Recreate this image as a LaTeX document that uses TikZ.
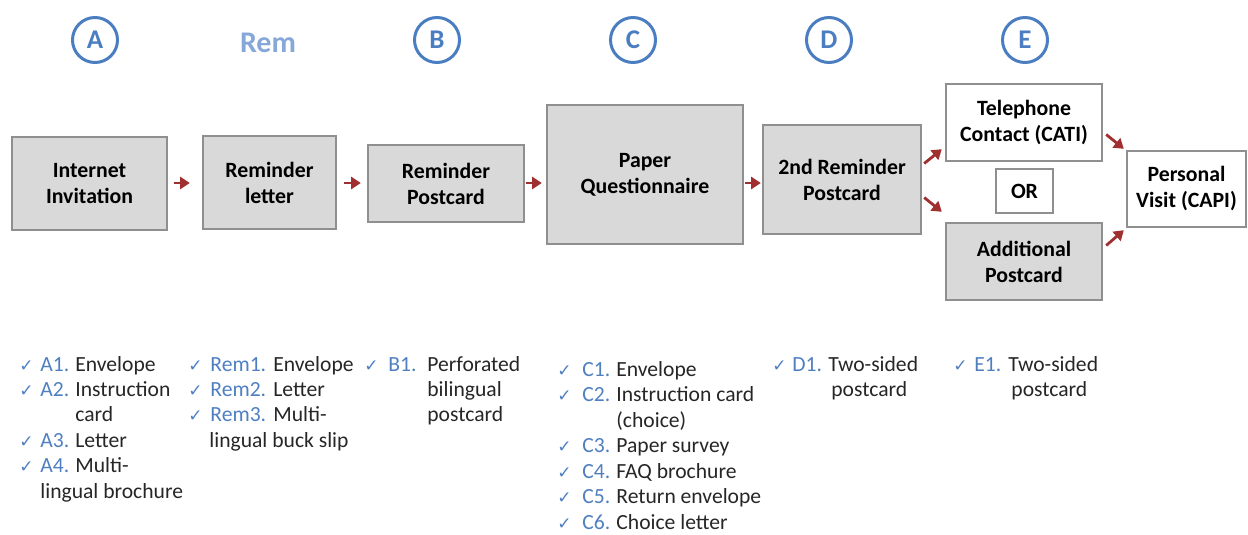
\documentclass[tikz,border=0pt]{standalone}
\usepackage{fontspec}
\setmainfont{Carlito}
\newfontfamily\symfont{DejaVu Sans}
\usetikzlibrary{arrows.meta}
\definecolor{boxfill}{HTML}{D9D9D9}
\definecolor{boxline}{HTML}{8F8F8F}
\definecolor{arrowred}{HTML}{A0302F}
\definecolor{hdblue}{HTML}{4A7EC1}
\definecolor{remblue}{HTML}{86A8D8}
\definecolor{labblue}{HTML}{4F7FC0}
\definecolor{txtgray}{HTML}{262626}
\tikzset{
    stage/.style={draw=boxline, line width=1.2pt, fill=boxfill, align=center, inner sep=0pt,
        text=black, font=\bfseries\fontsize{10.9}{13}\selectfont},
    openstage/.style={stage, fill=white},
    flow/.style={draw=arrowred, line width=1.4pt, -{Triangle[length=4.8pt,width=6pt]}},
    phase/.style={circle, draw=hdblue, line width=1.5pt, minimum size=22.5pt, inner sep=0pt,
        text=hdblue, font=\bfseries\fontsize{13.5}{13.5}\selectfont},
    tick/.style={anchor=base west, inner sep=0pt, text=labblue, font=\symfont\fontsize{8.5}{10}\selectfont},
    itemlab/.style={anchor=base west, inner sep=0pt, text=labblue, font=\fontsize{10.8}{13}\selectfont},
    itemtxt/.style={anchor=base west, inner sep=0pt, text=txtgray, font=\fontsize{10.8}{13}\selectfont}
}
\begin{document}
\begin{tikzpicture}[x=0.5pt, y=-0.5pt]
    \useasboundingbox (0,0) rectangle (1248,535);

    \node[phase] (hA) at (95,40) {A};
    \node[text=remblue, font=\bfseries\fontsize{15}{15}\selectfont] (hRem) at (268,43) {Rem};
    \node[phase] (hB) at (437,40) {B};
    \node[phase] (hC) at (633,40) {C};
    \node[phase] (hD) at (829,40) {D};
    \node[phase] (hE) at (1025,40) {E};

    \node[stage, minimum width=77.5pt, minimum height=46.5pt] (inv) at (89.5,183.5) {Internet\\Invitation};
    \node[stage, minimum width=66.5pt, minimum height=46.5pt] (remlet) at (269.5,182.5) {Reminder\\letter};
    \node[stage, minimum width=78pt, minimum height=38.5pt] (remcard) at (446,183.5) {Reminder\\Postcard};
    \node[stage, minimum width=98pt, minimum height=69.5pt] (paper) at (645,174.5) {Paper\\Questionnaire};
    \node[stage, minimum width=79pt, minimum height=54.5pt] (rem2) at (842,179.5) {2nd Reminder\\Postcard};
    \node[openstage, minimum width=78pt, minimum height=38.5pt] (tel) at (1024,122.5) {Telephone\\Contact (CATI)};
    \node[openstage, minimum width=28.5pt, minimum height=22pt] (or) at (1024.5,191) {OR};
    \node[stage, minimum width=78pt, minimum height=38.5pt] (add) at (1024,261.5) {Additional\\Postcard};
    \node[openstage, minimum width=59.5pt, minimum height=38pt] (visit) at (1186.5,189) {Personal\\Visit (CAPI)};

    \coordinate (flowline) at (0,183);
    \draw[flow] ([xshift=3pt]inv.east |- flowline) -- ([xshift=-6pt]remlet.west |- flowline);
    \draw[flow] ([xshift=3.5pt]remlet.east |- flowline) -- ([xshift=-3pt]remcard.west |- flowline);
    \draw[flow] ([xshift=0.5pt]remcard.east |- flowline) -- ([xshift=-2pt]paper.west |- flowline);
    \draw[flow] ([xshift=0.5pt]paper.east |- flowline) -- ([xshift=-0.5pt]rem2.west |- flowline);
    \draw[flow] ([shift={(2,-16)}]rem2.east) -- ([shift={(-3,-13)}]tel.south west);
    \draw[flow] ([shift={(2,18)}]rem2.east) -- ([shift={(-3,-10)}]add.north west);
    \draw[flow] ([shift={(3,12)}]tel.east) -- ([shift={(-2,-1)}]visit.north west);
    \draw[flow] ([shift={(3,-16)}]add.east) -- ([shift={(-2,2)}]visit.south west);

    \foreach \y/\lab/\txt in {371/A1./Envelope, 396/A2./Instruction, 447/A3./Letter, 472/A4./Multi-}
    {
        \node[tick] (tA\y) at (19,\y) {✓};
        \node[itemlab] (lA\y) at (40,\y) {\lab};
        \node[itemtxt] (iA\y) at (75,\y) {\txt};
    }
    \node[itemtxt] (iA421) at (75,421) {card};
    \node[itemtxt] (iA498) at (40,498) {lingual brochure};

    \foreach \y/\lab/\txt in {371/Rem1./Envelope, 396/Rem2./Letter, 421/Rem3./Multi-}
    {
        \node[tick] (tR\y) at (188,\y) {✓};
        \node[itemlab] (lR\y) at (210,\y) {\lab};
        \node[itemtxt] (iR\y) at (273,\y) {\txt};
    }
    \node[itemtxt] (iR447) at (209,447) {lingual buck slip};

    \node[tick] (tB371) at (364,371) {✓};
    \node[itemlab] (lB371) at (388,371) {B1.};
    \foreach \y/\txt in {371/Perforated, 396/bilingual, 421/postcard}
        \node[itemtxt] (iB\y) at (427,\y) {\txt};

    \foreach \y/\lab/\txt in {376/C1./Envelope, 401/C2./Instruction card, 452/C3./Paper survey,
        478/C4./FAQ brochure, 503/C5./Return envelope, 529/C6./Choice letter}
    {
        \node[tick] (tC\y) at (557,\y) {✓};
        \node[itemlab] (lC\y) at (582,\y) {\lab};
        \node[itemtxt] (iC\y) at (616,\y) {\txt};
    }
    \node[itemtxt] (iC427) at (616,427) {(choice)};

    \node[tick] (tD371) at (772,371) {✓};
    \node[itemlab] (lD371) at (792,371) {D1.};
    \node[itemtxt] (iD371) at (828,371) {Two-sided};
    \node[itemtxt] (iD396) at (831,396) {postcard};

    \node[tick] (tE371) at (953,371) {✓};
    \node[itemlab] (lE371) at (974,371) {E1.};
    \node[itemtxt] (iE371) at (1008,371) {Two-sided};
    \node[itemtxt] (iE396) at (1011,396) {postcard};
\end{tikzpicture}
\end{document}
